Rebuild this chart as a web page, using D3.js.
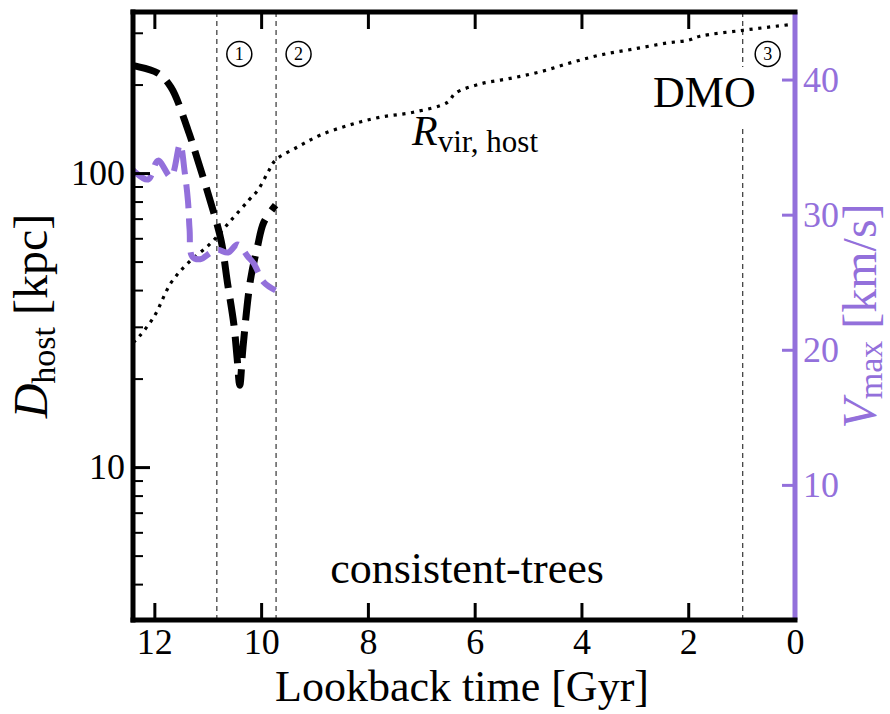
<!DOCTYPE html>
<html>
<head>
<meta charset="utf-8">
<script src="https://cdn.jsdelivr.net/npm/d3@7"></script>
<style>
body{margin:0;background:#fff;}
text{font-family:"Liberation Serif","Times New Roman",serif;}
</style>
</head>
<body>
<div class="plot"></div>
<script>
// host distance of the subhalo [kpc] vs lookback time [Gyr]
var dhostTime = [12.4, 12.35, 11.94, 11.69, 11.37, 11.19, 10.94, 10.75, 10.63, 10.51, 10.45, 10.40, 10.34, 10.20, 10.07, 9.95, 9.73];
var dhostVals = [232, 231, 219, 196, 140, 111, 79, 59, 42.3, 30.5, 23.5, 19.0, 25.5, 43.3, 56, 68, 77.8];

// Vmax of the subhalo [km/s]
var vmaxTime = [12.4, 12.12, 11.93, 11.69, 11.52, 11.43, 11.37, 11.34, 11.29, 11.14, 10.94, 10.81, 10.62, 10.44, 10.25, 10.14, 9.95, 9.73];
var vmaxVals = [33.3, 32.6, 34.0, 32.8, 35.2, 33.1, 31.0, 28.9, 26.9, 26.7, 27.2, 27.4, 27.2, 27.8, 26.9, 26.4, 25.0, 24.4];

// virial radius of the host [kpc]
var rvirTime = [12.4, 12.35, 12.01, 11.69, 11.37, 10.94, 10.56, 10.23, 10.06, 9.88, 9.73, 9.32, 8.89, 8.33, 7.76, 7.15, 6.51, 6.36, 5.89, 5.33, 4.77, 4.21, 3.65, 3.03, 2.39, 2.0, 1.78, 0.97, 0.04, 0];
var rvirHost = [26.6, 27.0, 32.4, 42.3, 49.4, 57.8, 69.2, 80.9, 87.5, 100, 110.7, 122.6, 134.7, 146, 155, 161, 174, 187, 201, 210, 221, 237, 252, 264, 277, 283, 292, 306, 321, 322];

// marked events
var eventTimes = [10.83, 9.72, 0.98];
var eventLabels = ['1', '2', '3'];

// ticks
var xTicks = [12, 10, 8, 6, 4, 2, 0];
var dMajor = [10, 100];
var dMinor = [4, 5, 6, 7, 8, 9, 20, 30, 40, 50, 60, 70, 80, 90, 200, 300];
var vTicks = [10, 20, 30, 40];

var purple = '#9370DB';

var m = {t:12, r:95, b:94, l:133},
    w = 890 - m.l - m.r,
    h = 714 - m.t - m.b;

var svg = d3.select('.plot').append('svg')
    .attr('width', 890)
    .attr('height', 714);

var plot = svg.append('g')
    .attr('transform', 'translate(' + m.l + ',' + m.t + ')');

var x = d3.scaleLinear().domain([12.4, 0]).range([0, w]);
var yD = d3.scaleLog().domain([3.02, 353]).range([h, 0]);
var yV = d3.scaleLinear().domain([0, 45]).range([h, 0]);

plot.append('clipPath').attr('id', 'clip')
    .append('rect').attr('width', w).attr('height', h);

// event lines
plot.selectAll('.event')
    .data(eventTimes)
    .enter()
    .append('line')
    .attr('class', 'event')
    .attr('x1', function(d){return x(d)})
    .attr('x2', function(d){return x(d)})
    .attr('y1', 0)
    .attr('y2', h)
    .style('stroke', '#444')
    .style('stroke-width', 1.3)
    .style('stroke-dasharray', '5,4');

// DMO label with white box
plot.append('rect')
    .attr('x', 512).attr('y', 55)
    .attr('width', 120).attr('height', 58)
    .style('fill', '#fff');
plot.append('text')
    .attr('x', 520).attr('y', 95)
    .style('font-size', '44px')
    .text('DMO');

// circled event numbers
var marks = plot.selectAll('.mark')
    .data(eventTimes)
    .enter()
    .append('g')
    .attr('class', 'mark')
    .attr('transform', function(d,i){return 'translate(' + (x(d) + (i == 2 ? 25 : 22.5)) + ',42)'});
marks.append('circle')
    .attr('r', 12.5)
    .style('fill', 'none')
    .style('stroke', '#000')
    .style('stroke-width', 1.5);
marks.append('text')
    .attr('text-anchor', 'middle')
    .attr('dy', '0.35em')
    .style('font-size', '18px')
    .text(function(d,i){return eventLabels[i]});

var curves = plot.append('g').attr('clip-path', 'url(#clip)');

var rvirLine = d3.line()
    .x(function(d){return x(d[0])})
    .y(function(d){return yD(d[1])})
    .curve(d3.curveCatmullRom);

curves.append('path')
    .datum(d3.zip(rvirTime, rvirHost))
    .attr('d', rvirLine)
    .style('fill', 'none')
    .style('stroke', '#000')
    .style('stroke-width', 3.2)
    .style('stroke-dasharray', '3.2,5.6');

curves.append('path')
    .datum(d3.zip(dhostTime, dhostVals))
    .attr('d', rvirLine)
    .style('fill', 'none')
    .style('stroke', '#000')
    .style('stroke-width', 7)
    .style('stroke-dasharray', '27,11');

var vLine = d3.line()
    .x(function(d){return x(d[0])})
    .y(function(d){return yV(d[1])})
    .curve(d3.curveCatmullRom);

curves.append('path')
    .datum(d3.zip(vmaxTime, vmaxVals))
    .attr('d', vLine)
    .style('fill', 'none')
    .style('stroke', purple)
    .style('stroke-width', 6)
    .style('stroke-dasharray', '24,10');

// in-plot labels
var rl = plot.append('text')
    .attr('x', 279).attr('y', 133)
    .style('font-size', '42px');
rl.append('tspan').style('font-style', 'italic').text('R');
rl.append('tspan').attr('dy', 7).style('font-size', '31px').text('vir, host');

plot.append('text')
    .attr('x', 334).attr('y', 571)
    .attr('text-anchor', 'middle')
    .style('font-size', '44px')
    .text('consistent-trees');

// axes
function styleAxis(g, color, width){
    g.select('.domain').remove();
    g.selectAll('.tick line').style('stroke', color).style('stroke-width', width);
    g.selectAll('.tick text')
        .style('fill', color)
        .style('font-family', '"Liberation Serif", serif')
        .style('font-size', '36px');
}

plot.append('g')
    .attr('transform', 'translate(0,' + h + ')')
    .call(d3.axisBottom(x).tickValues(xTicks).tickFormat(d3.format('d')).tickSize(-17).tickPadding(8))
    .call(styleAxis, '#000', 3);

plot.append('g')
    .call(d3.axisTop(x).tickValues(xTicks).tickFormat('').tickSize(-17))
    .call(styleAxis, '#000', 3);

plot.append('g')
    .call(d3.axisLeft(yD).tickValues(dMajor).tickFormat(d3.format('d')).tickSize(-17).tickPadding(8))
    .call(styleAxis, '#000', 3);

plot.append('g')
    .call(d3.axisLeft(yD).tickValues(dMinor).tickFormat('').tickSize(-10))
    .call(styleAxis, '#000', 2);

plot.append('g')
    .attr('transform', 'translate(' + w + ',0)')
    .call(d3.axisRight(yV).tickValues(vTicks).tickFormat(d3.format('d')).tickSize(-13).tickPadding(8))
    .call(styleAxis, purple, 3);

// spines
plot.append('line')
    .attr('x1', w).attr('x2', w).attr('y1', 0).attr('y2', h)
    .style('stroke', purple).style('stroke-width', 5);
plot.append('line')
    .attr('x1', 0).attr('x2', 0).attr('y1', -2.5).attr('y2', h + 2.5)
    .style('stroke', '#000').style('stroke-width', 5);
plot.append('line')
    .attr('x1', -2.5).attr('x2', w + 2.5).attr('y1', 0).attr('y2', 0)
    .style('stroke', '#000').style('stroke-width', 5);
plot.append('line')
    .attr('x1', -2.5).attr('x2', w + 2.5).attr('y1', h).attr('y2', h)
    .style('stroke', '#000').style('stroke-width', 5);

// axis titles
svg.append('text')
    .attr('x', 462).attr('y', 701)
    .attr('text-anchor', 'middle')
    .style('font-size', '44px')
    .text('Lookback time [Gyr]');

var yl = svg.append('text')
    .attr('transform', 'translate(47,316) rotate(-90)')
    .attr('text-anchor', 'middle')
    .style('font-size', '48px');
yl.append('tspan').style('font-style', 'italic').text('D');
yl.append('tspan').attr('dy', 8).style('font-size', '34px').text('host');
yl.append('tspan').attr('dy', -8).text(' [kpc]');

var vl = svg.append('text')
    .attr('transform', 'translate(876,316) rotate(-90)')
    .attr('text-anchor', 'middle')
    .style('fill', purple)
    .style('font-size', '48px');
vl.append('tspan').style('font-style', 'italic').text('V');
vl.append('tspan').attr('dy', 6).style('font-size', '34px').text('max');
vl.append('tspan').attr('dy', -6).text(' [km/s]');
</script>
</body>
</html>
